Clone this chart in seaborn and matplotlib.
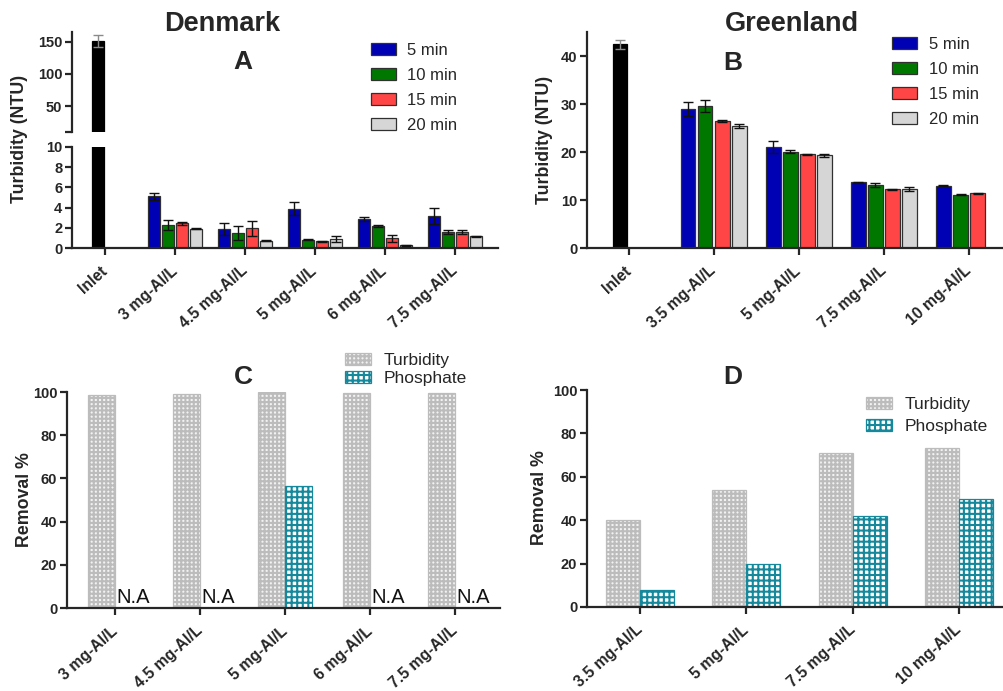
import numpy as np
import pandas as pd
import matplotlib
matplotlib.use("Agg")
import matplotlib.pyplot as plt
import seaborn as sns
from matplotlib.patches import Patch

# ---------------- data ----------------
times = ["5 min", "10 min", "15 min", "20 min"]

dk_doses = ["3 mg-Al/L", "4.5 mg-Al/L", "5 mg-Al/L", "6 mg-Al/L", "7.5 mg-Al/L"]
dk_inlet = 151.0
dk_inlet_err = 9.0
dk_5min = [5.1, 1.9, 3.9, 2.9, 3.2]
dk_5min_err = [0.35, 0.6, 0.65, 0.2, 0.8]
dk_10min = [2.3, 1.5, 0.8, 2.2, 1.6]
dk_10min_err = [0.5, 0.7, 0.05, 0.1, 0.2]
dk_15min = [2.45, 1.95, 0.65, 0.95, 1.6]
dk_15min_err = [0.15, 0.75, 0.08, 0.35, 0.05]
dk_20min = [1.9, 0.7, 0.9, 0.25, 1.15]
dk_20min_err = [0.05, 0.05, 0.3, 0.05, 0.05]

gl_doses = ["3.5 mg-Al/L", "5 mg-Al/L", "7.5 mg-Al/L", "10 mg-Al/L"]
gl_inlet = 42.4
gl_inlet_err = 1.0
gl_5min = [29.0, 21.0, 13.7, 13.0]
gl_5min_err = [1.5, 1.2, 0.1, 0.1]
gl_10min = [29.6, 20.1, 13.1, 11.1]
gl_10min_err = [1.3, 0.25, 0.4, 0.05]
gl_15min = [26.5, 19.5, 12.25, 11.4]
gl_15min_err = [0.2, 0.1, 0.1, 0.15]
gl_20min = [25.4, 19.3, 12.3, None]
gl_20min_err = [0.5, 0.35, 0.35, None]

removal_kinds = ["Turbidity", "Phosphate"]
dk_turb_removal = [98.8, 99.2, 99.8, 99.5, 99.4]
dk_phos_removal = [None, None, 56.5, None, None]
gl_turb_removal = [40.0, 53.8, 71.0, 73.2]
gl_phos_removal = [7.7, 19.8, 42.0, 50.0]

# ---------------- style ----------------
sns.set_style("ticks")
plt.rcParams["font.family"] = ["Liberation Sans", "DejaVu Sans"]
plt.rcParams["axes.linewidth"] = 1.6
plt.rcParams["hatch.linewidth"] = 1.5

time_colors = {"5 min": "#0000b4", "10 min": "#007800", "15 min": "#ff4545", "20 min": "#d6d6d6"}
TURB_FACE, TURB_EDGE, TURB_HATCH = "#f2f2f2", "#bcbcbc", "++++"
PHOS_FACE, PHOS_EDGE, PHOS_HATCH = "#ffffff", "#16889b", "+++"

W, H = 1004, 691
fig = plt.figure(figsize=(W / 100, H / 100), dpi=100)


def style_axis(ax):
    sns.despine(ax=ax)
    ax.tick_params(axis="both", direction="out", length=5, width=1.6)
    ax.tick_params(axis="y", pad=2, labelsize=10.5)
    ax.tick_params(axis="x", pad=10)
    for lab in ax.get_yticklabels():
        lab.set_fontweight("bold")
    ax.set_xlabel("")
    ax.set_ylabel("")


def time_bars(ax, cats, series, errs, inlet, inlet_err):
    order = ["Inlet"] + cats
    rows = []
    for t, vals, es in zip(times, series, errs):
        for c, v, e in zip(cats, vals, es):
            if v is not None:
                rows.append((c, t, v, e))
    df = pd.DataFrame(rows, columns=["cat", "time", "val", "err"])
    sns.barplot(data=df, x="cat", y="val", hue="time", order=order, hue_order=times,
                palette=time_colors, saturation=1, width=0.8, gap=0.15, edgecolor="#303030",
                linewidth=0.9, errorbar=None, legend=False, ax=ax)
    inlet_df = pd.DataFrame({"cat": ["Inlet"], "val": [inlet], "slot": ["a"], "err": [inlet_err]})
    sns.barplot(data=inlet_df, x="cat", y="val", hue="slot", order=order, hue_order=["a", "b"],
                palette={"a": "black", "b": "black"}, saturation=1, dodge=True, width=0.4,
                gap=0.15, edgecolor="black", linewidth=0.9, errorbar=None, legend=False, ax=ax)
    allrows = pd.concat([df.assign(ec="#111111"),
                         inlet_df.assign(ec="#8a8a8a")], ignore_index=True)
    for bar in list(ax.patches):
        h = bar.get_height()
        xc = bar.get_x() + bar.get_width() / 2
        ci = int(round(xc))
        if ci < 0 or ci >= len(order):
            continue
        m = allrows[(allrows["cat"] == order[ci]) & np.isclose(allrows["val"], h)]
        if len(m):
            ax.errorbar(xc, h, yerr=m["err"].iloc[0], fmt="none", ecolor=m["ec"].iloc[0],
                        elinewidth=1.0, capsize=3.5, capthick=1.0, zorder=4)
    return order


def removal_bars(ax, cats, turb, phos):
    rows = [(c, "Turbidity", v) for c, v in zip(cats, turb)]
    rows += [(c, "Phosphate", v) for c, v in zip(cats, phos) if v is not None]
    df = pd.DataFrame(rows, columns=["cat", "kind", "val"])
    sns.barplot(data=df, x="cat", y="val", hue="kind", order=cats, hue_order=removal_kinds,
                palette={"Turbidity": TURB_FACE, "Phosphate": PHOS_FACE}, saturation=1,
                width=0.64, gap=0, errorbar=None, legend=False, ax=ax)
    for bar in ax.patches:
        fc = bar.get_facecolor()
        if np.allclose(fc[:3], (1, 1, 1)):
            bar.set_edgecolor(PHOS_EDGE)
            bar.set_hatch(PHOS_HATCH)
        else:
            bar.set_edgecolor(TURB_EDGE)
            bar.set_hatch(TURB_HATCH)
        bar.set_linewidth(0.9)
    for i, v in enumerate(phos):
        if v is None:
            ax.text(i + 0.02, 0.3, "N.A", ha="left", va="bottom", fontsize=14.5, color="#111111")


def set_cat_ticks(ax, labels):
    ax.set_xticks(range(len(labels)))
    ax.set_xticklabels(labels, rotation=42, ha="right", va="center", rotation_mode="anchor",
                       fontweight="bold", fontsize=11.3)


# ---------------- panel A (broken axis) ----------------
axU = fig.add_axes([72 / W, 1 - 132 / H, 426 / W, 100 / H])
axL = fig.add_axes([72 / W, 1 - 248 / H, 426 / W, 101 / H])
dk_series = [dk_5min, dk_10min, dk_15min, dk_20min]
dk_errs = [dk_5min_err, dk_10min_err, dk_15min_err, dk_20min_err]
orderA = time_bars(axU, dk_doses, dk_series, dk_errs, dk_inlet, dk_inlet_err)
time_bars(axL, dk_doses, dk_series, dk_errs, dk_inlet, dk_inlet_err)
for ax in (axU, axL):
    ax.set_xlim(-0.47, 5.616)
axU.set_ylim(10, 165)
axU.set_yticks([10, 50, 100, 150])
axU.set_yticklabels(["", "50", "100", "150"])
axL.set_ylim(0, 10)
axL.set_yticks([0, 2, 4, 6, 8, 10])
style_axis(axU)
style_axis(axL)
set_cat_ticks(axL, orderA)
axU.spines["bottom"].set_visible(False)
axU.tick_params(axis="x", bottom=False, labelbottom=False)

# ---------------- panel B ----------------
axB = fig.add_axes([587 / W, 1 - 248 / H, 422 / W, 216 / H])
gl_series = [gl_5min, gl_10min, gl_15min, gl_20min]
gl_errs = [gl_5min_err, gl_10min_err, gl_15min_err, gl_20min_err]
orderB = time_bars(axB, gl_doses, gl_series, gl_errs, gl_inlet, gl_inlet_err)
axB.set_xlim(-0.49, 4.47)
axB.set_ylim(0, 45)
axB.set_yticks([0, 10, 20, 30, 40])
style_axis(axB)
set_cat_ticks(axB, orderB)

# ---------------- panel C ----------------
axC = fig.add_axes([67 / W, 1 - 608 / H, 433 / W, 216 / H])
removal_bars(axC, dk_doses, dk_turb_removal, dk_phos_removal)
axC.set_xlim(-0.565, 4.53)
axC.set_ylim(0, 100)
axC.set_yticks([0, 20, 40, 60, 80, 100])
style_axis(axC)
set_cat_ticks(axC, dk_doses)

# ---------------- panel D ----------------
axD = fig.add_axes([587 / W, 1 - 607 / H, 422 / W, 217 / H])
removal_bars(axD, gl_doses, gl_turb_removal, gl_phos_removal)
axD.set_xlim(-0.5, 3.47)
axD.set_ylim(0, 100)
axD.set_yticks([0, 20, 40, 60, 80, 100])
style_axis(axD)
set_cat_ticks(axD, gl_doses)

# ---------------- legends ----------------
time_handles = [Patch(facecolor=time_colors[t], edgecolor="#303030", linewidth=0.9, label=t) for t in times]
leg_kw = dict(loc="upper left", frameon=False, fontsize=12, handlelength=1.5, handleheight=0.75,
              labelspacing=0.6, borderpad=0, borderaxespad=0)
fig.legend(handles=time_handles, bbox_to_anchor=(371 / W, 1 - 43 / H), handletextpad=0.65, **leg_kw)
fig.legend(handles=time_handles, bbox_to_anchor=(892 / W, 1 - 37 / H), handletextpad=0.75, **leg_kw)


def removal_handles():
    h1 = Patch(facecolor=TURB_FACE, edgecolor=TURB_EDGE, hatch=TURB_HATCH, linewidth=0.9, label="Turbidity")
    h2 = Patch(facecolor=PHOS_FACE, edgecolor=PHOS_EDGE, hatch=PHOS_HATCH, linewidth=0.9, label="Phosphate")
    return [h1, h2]


rleg_kw = dict(loc="upper left", frameon=False, fontsize=12.5, handlelength=1.5, handleheight=0.7,
               handletextpad=0.7, borderpad=0, borderaxespad=0)
fig.legend(handles=removal_handles(), bbox_to_anchor=(345 / W, 1 - 353 / H), labelspacing=0.18, **rleg_kw)
fig.legend(handles=removal_handles(), bbox_to_anchor=(866 / W, 1 - 397 / H), labelspacing=0.38, **rleg_kw)

# ---------------- titles & labels ----------------
fig.text(222 / W, 1 - 24 / H, "Denmark", ha="center", va="center", fontsize=19.5, fontweight="bold")
fig.text(792 / W, 1 - 24 / H, "Greenland", ha="center", va="center", fontsize=19.5, fontweight="bold")
for x, y, s in [(243, 62, "A"), (733, 63, "B"), (243, 377, "C"), (733, 377, "D")]:
    fig.text(x / W, 1 - y / H, s, ha="center", va="center", fontsize=19, fontweight="bold")
for x, y, s in [(20, 139, "Turbidity (NTU)"), (545, 140, "Turbidity (NTU)"),
                (25, 500, "Removal %"), (540, 498, "Removal %")]:
    fig.text(x / W, 1 - y / H, s, rotation=90, ha="center", va="center", fontsize=12.8,
             fontweight="bold")

fig.savefig("out.png", dpi=100)
